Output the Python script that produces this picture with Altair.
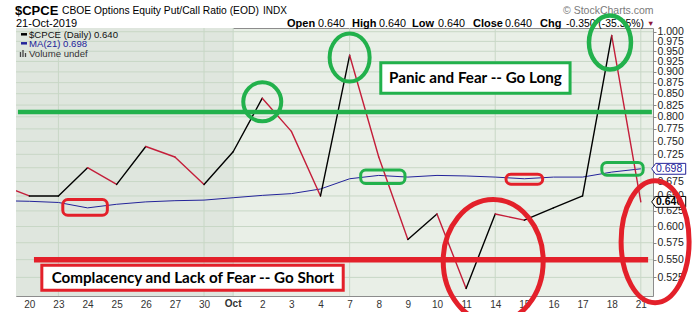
import altair as alt
import pandas as pd

# ---------------- data ----------------
session_index = list(range(-1, 22))  # -1 = 19-Sep (off chart), 0..21 = 20-Sep .. 21-Oct
date_labels = ["20", "23", "24", "25", "26", "27", "30", "Oct", "2", "3", "4", "7",
               "8", "9", "10", "11", "14", "15", "16", "17", "18", "21"]
close_values = [0.67, 0.65, 0.65, 0.70, 0.67, 0.74, 0.72, 0.67, 0.73, 0.84, 0.77, 0.65,
                0.94, 0.72, 0.58, 0.62, 0.51, 0.62, 0.61, 0.63, 0.65, 0.99, 0.64]
ma21_values = [0.642, 0.641, 0.639, 0.630, 0.636, 0.640, 0.642, 0.643, 0.647, 0.651, 0.654,
               0.662, 0.680, 0.686, 0.683, 0.686, 0.685, 0.683, 0.680, 0.683, 0.683, 0.692, 0.698]
y_ticks = [0.525, 0.550, 0.575, 0.600, 0.625, 0.650, 0.675, 0.700, 0.725, 0.750, 0.775,
           0.800, 0.825, 0.850, 0.875, 0.900, 0.925, 0.950, 0.975, 1.000]
hidden_tick_label = 0.700   # covered by the MA value tag
week_grid = [1, 6, 7, 11, 16, 21]
month_start_oct = 7
last_close = 0.640
last_ma = 0.698

# annotations (data coordinates)
ann_lines_level = [0.81, 0.55]
ann_lines_x1 = [-0.39, 0.16]
ann_lines_x2 = [21.38, 21.25]
ann_lines_kind = ["green", "red"]

ell_cx = [8.0, 11.0, 19.94, 15.93, 21.49]
ell_cy = [0.832, 0.9345, 0.972, 0.548, 0.5765]
ell_kind = ["green", "green", "green", "red", "red"]

rr_x1 = [1.15, 11.38, 16.37, 19.66]
rr_x2 = [2.68, 12.90, 17.63, 21.08]
rr_y1 = [0.644, 0.6956, 0.6883, 0.7098]
rr_y2 = [0.618, 0.6717, 0.6705, 0.6865]
rr_kind = ["red", "green", "red", "green"]

tb_text = ["Panic and Fear -- Go Long", "Complacency and Lack of Fear -- Go Short"]
tb_x1 = [12.07, 0.43]
tb_x2 = [18.57, 10.78]
tb_y1 = [0.9219, 0.5421]
tb_y2 = [0.8507, 0.5077]
tb_tx = [15.32, 5.62]
tb_ty = [0.8856, 0.5245]
tb_kind = ["green", "red"]

# ---------------- styling ----------------
GREEN = "#22b14c"
RED = "#e3202a"
ANN = {"green": GREEN, "red": RED}
UP = "#000000"
DOWN = "#c41e3a"
NAVY = "#23239a"
GRID = "#c8d7c6"
FONT = "Liberation Sans"

# ellipse sizes in px (style), matched with the ellipse list
ell_w = [38, 40, 42, 100, 68]
ell_h = [39, 48, 54, 123, 122]
ell_sw = [4, 4, 4.5, 5, 5]

xs = alt.Scale(domain=[-0.457, 21.418], nice=False, zero=False)
ys = alt.Scale(type="log", domain=[0.5, 1.0098], nice=False, zero=False)

label_expr = "[" + ",".join("'%s'" % ("" if s == "Oct" else s) for s in date_labels) + "][datum.value]"
x_axis = alt.Axis(values=list(range(len(date_labels))), labelExpr=label_expr, tickSize=0,
                  domain=False, grid=False, labelFontSize=10, labelFont=FONT,
                  labelColor="#333333", labelPadding=3, title=None, labelOverlap=False,
                  labelFlush=False)
y_axis = alt.Axis(orient="right", values=y_ticks, format=".3f", tickSize=3, tickColor="#888888",
                  labelExpr="abs(datum.value - %s) < 0.0001 ? '' : datum.label" % hidden_tick_label,
                  domain=False, grid=False, labelFontSize=10.5, labelFont=FONT,
                  labelColor="#222222", labelPadding=1, title=None, labelOverlap=False,
                  labelFlush=False)


def X(field):
    return alt.X(field, scale=xs, axis=x_axis)


def Y(field):
    return alt.Y(field, scale=ys, axis=y_axis)


def ellipse_path(w, h):
    m = max(w, h) / 2.0
    rx, ry = (w / 2.0) / m, (h / 2.0) / m
    k = 0.5523

    def f(v):
        return "%.4f" % v
    return ("M%s,0C%s,%s,%s,%s,0,%s" % (f(rx), f(rx), f(k * ry), f(k * rx), f(ry), f(ry)) +
            "C%s,%s,%s,%s,%s,0" % (f(-k * rx), f(ry), f(-rx), f(k * ry), f(-rx)) +
            "C%s,%s,%s,%s,0,%s" % (f(-rx), f(-k * ry), f(-k * rx), f(-ry), f(-ry)) +
            "C%s,%s,%s,%s,%s,0Z" % (f(k * rx), f(-ry), f(rx), f(-k * ry), f(rx)))


layers = []

# month shading (September darker)
shade = alt.Chart(pd.DataFrame({"x": [xs.domain[0]], "x2": [month_start_oct]})).mark_rect(
    color="#dfe6de").encode(x=X("x:Q"), x2="x2:Q")
layers.append(shade)

# gridlines
hgrid = alt.Chart(pd.DataFrame({"v": y_ticks})).mark_rule(color=GRID, strokeWidth=1).encode(
    y=Y("v:Q"))
vgrid = alt.Chart(pd.DataFrame({"x": week_grid})).mark_rule(color=GRID, strokeWidth=1).encode(
    x=X("x:Q"))
layers += [hgrid, vgrid]

# bold month label under the x axis
layers.append(alt.Chart(pd.DataFrame({"x": [month_start_oct], "t": [date_labels[month_start_oct]]}))
              .mark_text(font=FONT, fontSize=10, fontWeight="bold", color="#333333",
                         baseline="top", align="center", clip=False)
              .encode(x=X("x:Q"), y=alt.value(268 + 3), text="t:N"))

# MA(21)
ma_df = pd.DataFrame({"i": session_index, "ma": ma21_values})
ma_line = alt.Chart(ma_df).mark_line(color=NAVY, strokeWidth=1, clip=True).encode(
    x=X("i:Q"), y=Y("ma:Q"))
layers.append(ma_line)

# price segments (black up, red down)
seg_rows = []
for a in range(len(session_index) - 1):
    seg_rows.append({"x": session_index[a], "x2": session_index[a + 1],
                     "y": close_values[a], "y2": close_values[a + 1],
                     "dir": "up" if close_values[a + 1] >= close_values[a] else "down"})
seg_df = pd.DataFrame(seg_rows)
price = alt.Chart(seg_df).mark_rule(strokeWidth=1.4, clip=True, strokeCap="round").encode(
    x=X("x:Q"), x2="x2:Q", y=Y("y:Q"), y2="y2:Q",
    color=alt.Color("dir:N", scale=alt.Scale(domain=["up", "down"], range=[UP, DOWN]), legend=None))
layers.append(price)


def txt(s, x, y, size=11, weight="normal", color="#000000", font=FONT, align="left",
        baseline="alphabetic"):
    return alt.Chart(pd.DataFrame({"t": [s]})).mark_text(
        align=align, baseline=baseline, font=font, fontSize=size, fontWeight=weight,
        color=color, clip=False).encode(text="t:N", x=alt.value(x - 16), y=alt.value(y - 28))


def dash(x1, x2, y, color, width=2.5):
    return alt.Chart(pd.DataFrame({"a": [0]})).mark_rule(color=color, strokeWidth=width).encode(
        x=alt.value(x1 - 16), x2=alt.value(x2 - 16), y=alt.value(y - 28))


def vbar(x, y1, y2, color="#444444", width=1.3):
    return alt.Chart(pd.DataFrame({"a": [0]})).mark_rule(color=color, strokeWidth=width).encode(
        x=alt.value(x - 16), y=alt.value(y1 - 28), y2=alt.value(y2 - 28))


# header
layers += [
    txt("$CPCE", 15, 15, size=13, weight="bold"),
    txt("CBOE Options Equity Put/Call Ratio (EOD)", 62, 14, size=10.3),
    txt("INDX", 263, 14, size=10),
    txt("21-Oct-2019", 16, 26.7, size=11),
    txt("Open", 287, 26.7, size=11, weight="bold"), txt("%.3f" % last_close, 318, 26.7, size=10.8),
    txt("High", 352, 26.7, size=11, weight="bold"), txt("%.3f" % last_close, 379, 26.7, size=10.8),
    txt("Low", 412, 26.7, size=11, weight="bold"), txt("%.3f" % last_close, 438, 26.7, size=10.8),
    txt("Close", 473, 26.7, size=11, weight="bold"), txt("%.3f" % last_close, 505, 26.7, size=10.8),
    txt("Chg", 540, 26.7, size=11, weight="bold"), txt("-0.350 (-35.35%)", 566, 26.7, size=10.4),
    txt("\u25bc", 647, 25.5, size=7.5, color="#8b1538"),
    txt("\u00a9 StockCharts.com", 563, 14, size=10.5, color="#7a7a7a"),
]

# in-plot legend
layers += [
    dash(21, 27, 34.3, UP),
    dash(21, 27, 43.3, NAVY),
    vbar(20.5, 52, 57), vbar(23, 50, 57), vbar(25.5, 53, 57),
    txt("$CPCE (Daily) %.3f" % last_close, 29, 37.8, size=9.6, color="#111111"),
    txt("MA(21) %.3f" % last_ma, 29, 46.8, size=9.6, color=NAVY),
    txt("Volume undef", 29, 56.8, size=9.6, color="#333333"),
]

# right-axis value tags
TAG = "M-1,0L-0.76,-0.32L1,-0.32L1,0.32L-0.76,0.32Z"
tag_df = pd.DataFrame({"v": [last_ma, last_close], "c": [NAVY, "#000000"]})
tags = alt.Chart(tag_df).mark_point(shape=TAG, size=34 * 34, filled=True, fill="white",
                                    strokeWidth=1, opacity=1, clip=False).encode(
    x=alt.value(668.7 - 16), y=Y("v:Q"), stroke=alt.Stroke("c:N", scale=None))
layers.append(tags)
for v, c, w in [(last_ma, NAVY, "normal"), (last_close, "#000000", "bold")]:
    layers.append(alt.Chart(pd.DataFrame({"v": [v], "t": ["%.3f" % v]})).mark_text(
        align="left", baseline="middle", font=FONT, fontSize=10.5, fontWeight=w, color=c,
        clip=False).encode(x=alt.value(656 - 16), y=Y("v:Q"), text="t:N"))

# ---------------- annotations ----------------
ln_df = pd.DataFrame({"v": ann_lines_level, "x1": ann_lines_x1, "x2": ann_lines_x2,
                      "c": [ANN[k] for k in ann_lines_kind], "sw": [4.5, 5.5]})
layers.append(alt.Chart(ln_df).mark_rule(clip=False).encode(
    x=X("x1:Q"), x2="x2:Q", y=Y("v:Q"),
    stroke=alt.Stroke("c:N", scale=None), strokeWidth=alt.StrokeWidth("sw:Q", scale=None)))

rr_df = pd.DataFrame({"x1": rr_x1, "x2": rr_x2, "y1": rr_y1, "y2": rr_y2,
                      "c": [ANN[k] for k in rr_kind]})
layers.append(alt.Chart(rr_df).mark_rect(fill="transparent", strokeWidth=3, cornerRadius=5,
                                         clip=False).encode(
    x=X("x1:Q"), x2="x2:Q", y=Y("y1:Q"), y2="y2:Q", stroke=alt.Stroke("c:N", scale=None)))

tb_df = pd.DataFrame({"x1": tb_x1, "x2": tb_x2, "y1": tb_y1, "y2": tb_y2, "tx": tb_tx, "ty": tb_ty,
                      "t": tb_text, "c": [ANN[k] for k in tb_kind]})
layers.append(alt.Chart(tb_df).mark_rect(fill="white", strokeWidth=3, clip=False).encode(
    x=X("x1:Q"), x2="x2:Q", y=Y("y1:Q"), y2="y2:Q", stroke=alt.Stroke("c:N", scale=None)))
layers.append(alt.Chart(tb_df).mark_text(font="Lato", fontWeight="bold", fontSize=15.2,
                                         color="#000000", align="center", baseline="middle",
                                         clip=False).encode(
    x=X("tx:Q"), y=Y("ty:Q"), text="t:N"))

ell_df = pd.DataFrame({"cx": ell_cx, "cy": ell_cy,
                       "path": [ellipse_path(w, h) for w, h in zip(ell_w, ell_h)],
                       "size": [max(w, h) ** 2 for w, h in zip(ell_w, ell_h)],
                       "sw": ell_sw, "c": [ANN[k] for k in ell_kind]})
layers.append(alt.Chart(ell_df).mark_point(filled=False, opacity=1, clip=False).encode(
    x=X("cx:Q"), y=Y("cy:Q"),
    shape=alt.Shape("path:N", scale=None), size=alt.Size("size:Q", scale=None),
    stroke=alt.Stroke("c:N", scale=None), strokeWidth=alt.StrokeWidth("sw:Q", scale=None)))

chart = alt.layer(*layers).properties(
    width=637, height=268,
    autosize=alt.AutoSizeParams(type="none"),
    padding={"left": 16, "top": 28, "right": 47, "bottom": 16},
    background="white",
).configure_view(fill="#e9efe7", stroke="#8c8c8c", strokeWidth=1)

chart.save("out.html", embed_options={"renderer": "svg", "actions": False})
